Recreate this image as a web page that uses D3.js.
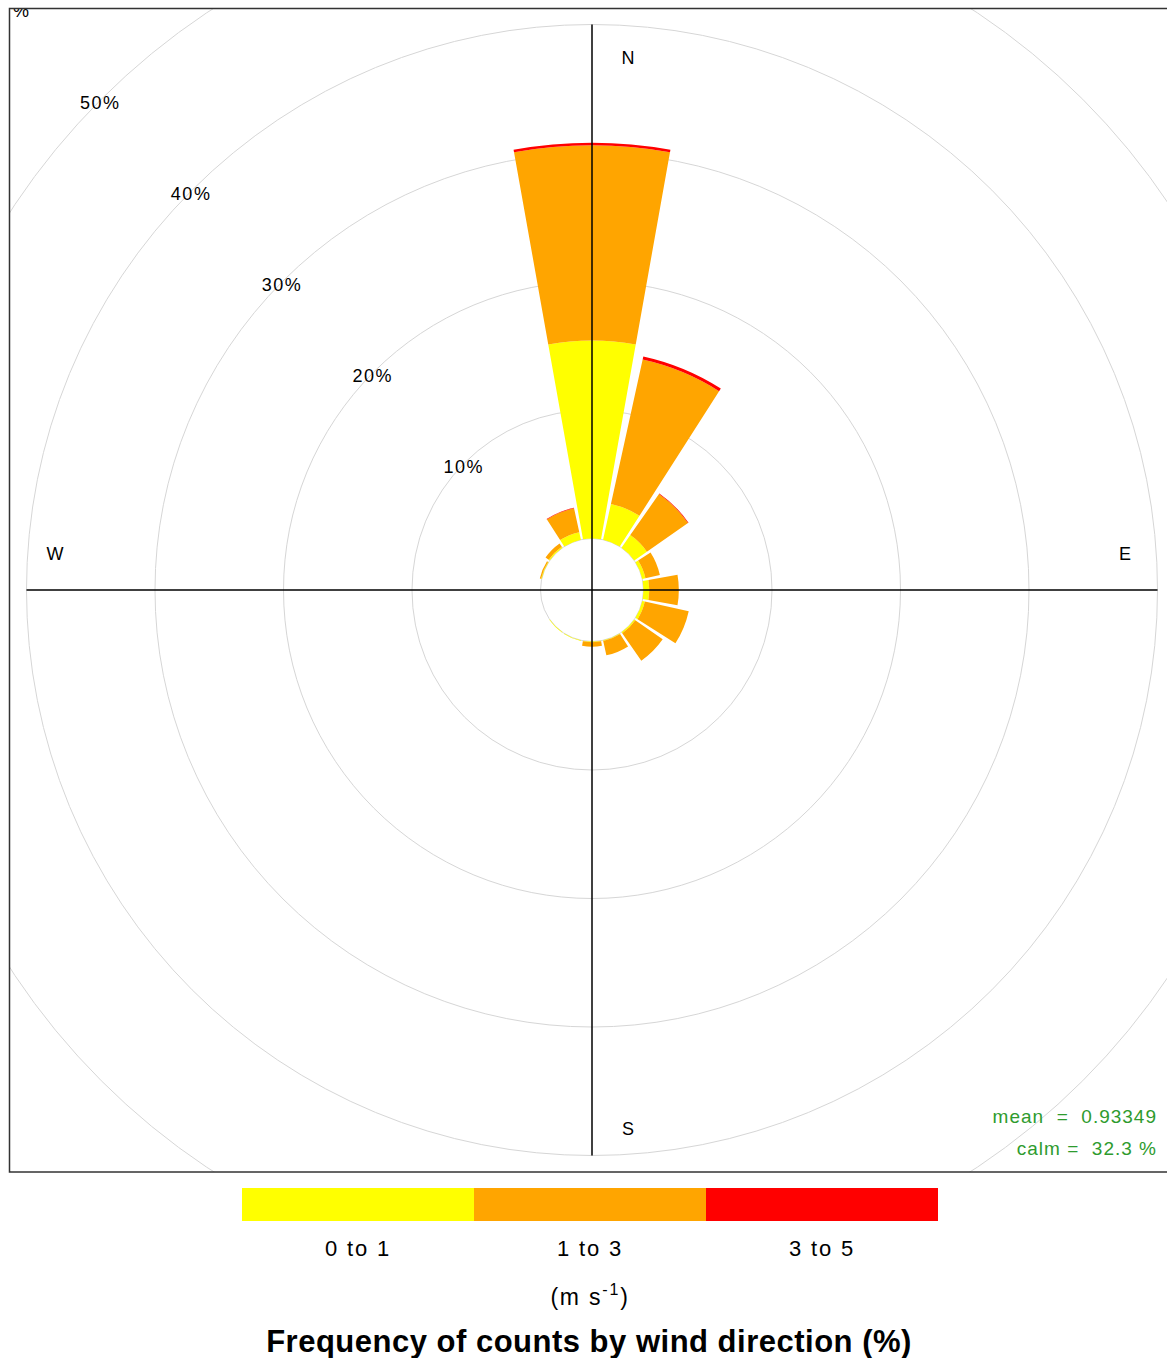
<!DOCTYPE html>
<html>
<head>
<meta charset="utf-8">
<script src="https://cdn.jsdelivr.net/npm/d3@7"></script>
<style>
  body { margin: 0; background: #fff; }
  svg text { font-family: "Liberation Sans", Arial, sans-serif; }
</style>
</head>
<body>
<svg id="rose" width="1167" height="1358"></svg>
<script>
// wind directions (degrees, clockwise from north)
const directions = [0, 22.5, 45, 67.5, 90, 112.5, 135, 157.5, 180, 202.5, 225, 247.5, 270, 292.5, 315, 337.5];
// frequency (%) per speed band
const speed0to1 = [15.4, 2.85, 1.2, 0.25, 0.45, 0.2, 0.1, 0.05, 0.05, 0.05, 0.05, 0, 0, 0.05, 0.1, 0.6];
const speed1to3 = [15.2, 11.5, 3.9, 1.15, 2.3, 3.5, 2.6, 1.15, 0.35, 0, 0, 0, 0, 0.1, 0.3, 1.9];
const speed3to5 = [0.2, 0.25, 0.05, 0, 0, 0, 0, 0, 0, 0, 0, 0, 0, 0, 0, 0.05];
const bandLabels = ["0 to 1", "1 to 3", "3 to 5"];
const bandColors = ["#FFFF00", "#FFA500", "#FF0000"];
const ringTicks = [10, 20, 30, 40, 50];
const compass = [{t: "N", a: 0}, {t: "E", a: 90}, {t: "S", a: 180}, {t: "W", a: 270}];
const meanSpeed = "0.93349";
const calmPct = "32.3";

const svg = d3.select("#rose");
const cx = 592, cy = 590;
const box = {x0: 9.5, y0: 8.5, x1: 1175, y1: 1172};

// radius scale: inner calm circle is the offset
const r = d3.scaleLinear().domain([0, 10]).range([51.5, 180]);

svg.append("defs").append("clipPath").attr("id", "plotclip")
    .append("rect")
    .attr("x", box.x0).attr("y", box.y0)
    .attr("width", box.x1 - box.x0).attr("height", box.y1 - box.y0);

const plot = svg.append("g").attr("clip-path", "url(#plotclip)");

// grid rings
plot.selectAll("circle.ring")
    .data(d3.range(0, 70, 10))
    .enter()
    .append("circle")
    .attr("class", "ring")
    .attr("cx", cx).attr("cy", cy)
    .attr("r", d => r(d))
    .attr("fill", "none")
    .attr("stroke", "#d6d6d6")
    .attr("stroke-width", 1);

// petals
const half = 10.1 * Math.PI / 180;
const arc = d3.arc();
const petals = [];
directions.forEach((dir, i) => {
    let cum = 0;
    [speed0to1[i], speed1to3[i], speed3to5[i]].forEach((v, b) => {
        if (v > 0) {
            petals.push({dir: dir, lo: cum, hi: cum + v, band: b});
        }
        cum += v;
    });
});

plot.append("g")
    .attr("transform", `translate(${cx},${cy})`)
    .selectAll("path")
    .data(petals)
    .enter()
    .append("path")
    .attr("d", d => {
        const a = d.dir * Math.PI / 180;
        return arc({
            innerRadius: r(d.lo),
            outerRadius: r(d.hi),
            startAngle: a - half,
            endAngle: a + half
        });
    })
    .attr("fill", d => bandColors[d.band]);

// axes
const axLen = r(40);
plot.append("line")
    .attr("x1", cx - axLen).attr("x2", cx + axLen)
    .attr("y1", cy).attr("y2", cy)
    .attr("stroke", "#000").attr("stroke-width", 1.5);
plot.append("line")
    .attr("x1", cx).attr("x2", cx)
    .attr("y1", cy - axLen).attr("y2", cy + axLen)
    .attr("stroke", "#000").attr("stroke-width", 1.5);

// ring labels along NW
const labAng = 315 * Math.PI / 180;
plot.selectAll("text.ringlab")
    .data(ringTicks)
    .enter()
    .append("text")
    .attr("class", "ringlab")
    .attr("x", d => cx + r(d) * Math.sin(labAng) - 1)
    .attr("y", d => cy - r(d) * Math.cos(labAng) + 10)
    .attr("text-anchor", "middle")
    .attr("font-size", 18)
    .attr("letter-spacing", 1.5)
    .attr("fill", "#000")
    .text(d => d + "%");

// compass labels
const compassPos = {N: [628, 64], E: [1125, 560], S: [628, 1135], W: [55, 560]};
plot.selectAll("text.compass")
    .data(compass)
    .enter()
    .append("text")
    .attr("class", "compass")
    .attr("x", d => compassPos[d.t][0])
    .attr("y", d => compassPos[d.t][1])
    .attr("text-anchor", "middle")
    .attr("font-size", 18)
    .text(d => d.t);

// axis unit label (clipped at top-left)
plot.append("text")
    .attr("x", 21).attr("y", 17)
    .attr("text-anchor", "middle")
    .attr("font-size", 18)
    .text("%");

// mean / calm
const stats = plot.append("g").attr("fill", "#2E9B2E").attr("font-size", 19).attr("letter-spacing", 1);
stats.append("text").attr("x", 1157).attr("y", 1123).attr("text-anchor", "end")
    .attr("xml:space", "preserve").text("mean  =  " + meanSpeed);
stats.append("text").attr("x", 1157).attr("y", 1155).attr("text-anchor", "end")
    .attr("xml:space", "preserve").text("calm =  " + calmPct + " %");

// plot border
svg.append("rect")
    .attr("x", box.x0).attr("y", box.y0)
    .attr("width", box.x1 - box.x0).attr("height", box.y1 - box.y0)
    .attr("fill", "none").attr("stroke", "#333").attr("stroke-width", 1.5);

// legend colour key
const key = d3.scaleBand().domain(bandLabels).range([242, 938]);
const legend = svg.append("g");
legend.selectAll("rect")
    .data(bandLabels)
    .enter()
    .append("rect")
    .attr("x", d => key(d))
    .attr("y", 1188)
    .attr("width", key.bandwidth())
    .attr("height", 33)
    .attr("fill", (d, i) => bandColors[i]);
legend.selectAll("text")
    .data(bandLabels)
    .enter()
    .append("text")
    .attr("x", d => key(d) + key.bandwidth() / 2)
    .attr("y", 1256)
    .attr("text-anchor", "middle")
    .attr("font-size", 22)
    .attr("letter-spacing", 1.8)
    .text(d => d);

const unit = svg.append("text")
    .attr("x", 590).attr("y", 1305)
    .attr("text-anchor", "middle")
    .attr("font-size", 23)
    .attr("letter-spacing", 1.8);
unit.append("tspan").text("(m s");
unit.append("tspan").attr("dy", -10).attr("font-size", 16).text("-1");
unit.append("tspan").attr("dy", 10).text(")");

svg.append("text")
    .attr("x", 589).attr("y", 1352)
    .attr("text-anchor", "middle")
    .attr("font-size", 31)
    .attr("font-weight", "bold")
    .attr("letter-spacing", 0.5)
    .text("Frequency of counts by wind direction (%)");
</script>
</body>
</html>
